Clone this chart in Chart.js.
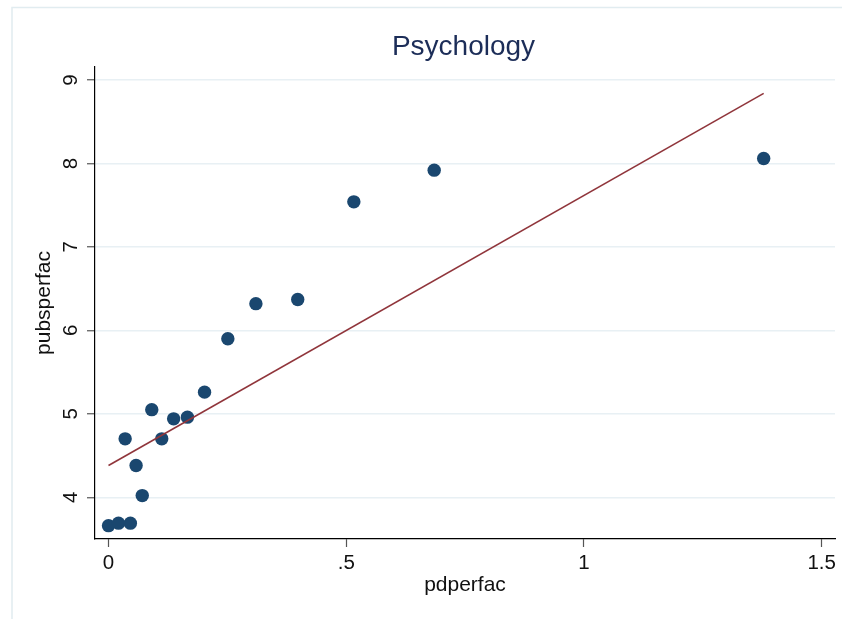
<!DOCTYPE html>
<html>
<head>
<meta charset="utf-8">
<script src="https://cdn.jsdelivr.net/npm/chart.js@4"></script>
<style>
html,body{margin:0;padding:0;background:#fff;}
#wrap{width:842px;height:619px;}
</style>
</head>
<body>
<div id="wrap"><canvas id="c" width="842" height="619"></canvas></div>
<script>
const chartTitle = 'Psychology';
const xTitle = 'pdperfac';
const yTitle = 'pubsperfac';
const pdperfac = [0, 0.021, 0.046, 0.035, 0.058, 0.071, 0.091, 0.112, 0.137, 0.166, 0.202, 0.251, 0.310, 0.398, 0.516, 0.685, 1.378];
const pubsperfac = [3.66, 3.69, 3.69, 4.70, 4.38, 4.02, 5.05, 4.70, 4.94, 4.96, 5.26, 5.90, 6.32, 6.37, 7.54, 7.92, 8.06];
const fitX = [0, 1.378];
const fitY = [4.38, 8.84];
const xTicks = [0, 0.5, 1, 1.5];
const xTickLabels = ['0', '.5', '1', '1.5'];
const yTicks = [4, 5, 6, 7, 8, 9];
const yTickLabels = ['4', '5', '6', '7', '8', '9'];

const FONT = '"Liberation Sans", Arial, Helvetica, sans-serif';

const framePlugin = {
  id: 'frame',
  beforeDraw(chart) {
    const ctx = chart.ctx;
    ctx.save();
    ctx.fillStyle = '#ffffff';
    ctx.fillRect(0, 0, chart.width, chart.height);
    ctx.strokeStyle = '#e1ecf0';
    ctx.lineWidth = 1.5;
    ctx.strokeRect(12, 7.5, chart.width + 20, chart.height + 20);
    ctx.restore();
  },
  afterDraw(chart) {
    const ctx = chart.ctx;
    const a = chart.chartArea;
    ctx.save();
    ctx.fillStyle = '#1c2d58';
    ctx.font = '28px ' + FONT;
    ctx.textAlign = 'center';
    ctx.textBaseline = 'alphabetic';
    ctx.fillText(chartTitle, (a.left + a.right) / 2 - 1.5, 54.5);
    ctx.restore();
  }
};

new Chart(document.getElementById('c'), {
  type: 'scatter',
  data: {
    datasets: [
      {
        type: 'line',
        label: 'Fitted values',
        data: fitX.map((x, i) => ({x: x, y: fitY[i]})),
        borderColor: '#90353b',
        borderWidth: 1.6,
        pointRadius: 0,
        fill: false,
        order: 0
      },
      {
        label: yTitle,
        data: pdperfac.map((x, i) => ({x: x, y: pubsperfac[i]})),
        backgroundColor: '#1a476f',
        borderWidth: 0,
        pointRadius: 6.7,
        pointHoverRadius: 6.7,
        order: 1
      }
    ]
  },
  options: {
    responsive: false,
    animation: false,
    devicePixelRatio: 1,
    layout: {padding: {left: 0, right: 7, top: 67, bottom: 0}},
    plugins: {
      legend: {display: false},
      title: {display: false},
      tooltip: {enabled: false}
    },
    scales: {
      x: {
        type: 'linear',
        min: -0.0284,
        max: 1.528,
        afterFit(s) { s.height = 80; },
        afterBuildTicks(s) { s.ticks = xTicks.map(v => ({value: v})); },
        border: {display: true, color: '#000', width: 1.2},
        grid: {display: true, drawOnChartArea: false, drawTicks: true, tickLength: 8, tickColor: '#555', tickWidth: 1.2},
        ticks: {
          padding: 4,
          color: '#111',
          font: {family: FONT, size: 20.5},
          maxRotation: 0,
          minRotation: 0,
          callback(v) { const i = xTicks.indexOf(v); return i >= 0 ? xTickLabels[i] : ''; }
        },
        title: {display: true, text: xTitle, color: '#111', font: {family: FONT, size: 21}, padding: {top: 0, bottom: 21}}
      },
      y: {
        type: 'linear',
        min: 3.5,
        max: 9.156,
        afterFit(s) { s.width = 95; },
        afterBuildTicks(s) { s.ticks = yTicks.map(v => ({value: v})); },
        border: {display: true, color: '#000', width: 1.2},
        grid: {display: true, drawOnChartArea: true, color: '#e8f0f4', lineWidth: 1.5, drawTicks: true, tickLength: 8, tickColor: '#555', tickWidth: 1.2},
        ticks: {
          padding: 10,
          color: '#111',
          crossAlign: 'center',
          minRotation: 90,
          maxRotation: 90,
          font: {family: FONT, size: 20.5},
          callback(v) { const i = yTicks.indexOf(v); return i >= 0 ? yTickLabels[i] : ''; }
        },
        title: {display: true, text: yTitle, color: '#111', font: {family: FONT, size: 21}, padding: {top: 32, bottom: 0}}
      }
    }
  },
  plugins: [framePlugin]
});
</script>
</body>
</html>
